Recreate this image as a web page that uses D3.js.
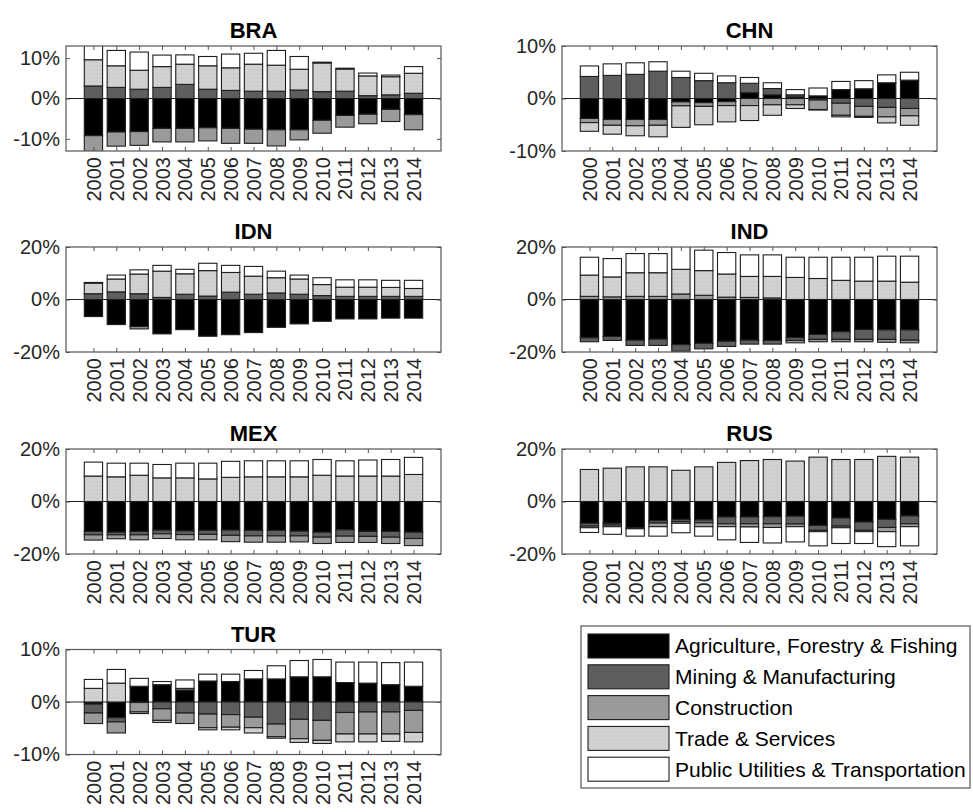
<!DOCTYPE html>
<html>
<head>
<meta charset="utf-8">
<script src="https://cdn.jsdelivr.net/npm/d3@7"></script>
<style>
  body { margin: 0; background: #fff; }
  svg { font-family: "Liberation Sans", Arial, sans-serif; }
</style>
</head>
<body>
<script>
/* data: share of each sector (%), one row per sector, one column per year */
const years = [2000, 2001, 2002, 2003, 2004, 2005, 2006, 2007, 2008, 2009, 2010, 2011, 2012, 2013, 2014];
const sectors = ['Agriculture, Forestry & Fishing', 'Mining & Manufacturing', 'Construction',
                 'Trade & Services', 'Public Utilities & Transportation'];
const countries = ['BRA', 'CHN', 'IDN', 'IND', 'MEX', 'RUS', 'TUR'];
const yLimits = [13, 10, 20, 20, 20, 20, 10];
const yTickValues = [[-10, 0, 10], [-10, 0, 10], [-20, 0, 20], [-20, 0, 20], [-20, 0, 20], [-20, 0, 20], [-10, 0, 10]];

const BRA = [
  [-9.2, -8.3, -8.2, -7.4, -7.4, -7.25, -7.4, -7.6, -7.75, -7.75, -5.4, -4.2, -3.9, -2.7, -4.0],
  [3.1, 2.75, 2.3, 2.75, 3.5, 2.3, 2.0, 1.8, 1.8, 2.1, 1.7, 1.8, 0.7, 0.9, 1.3],
  [-4.8, -3.5, -3.4, -3.35, -3.35, -3.25, -3.7, -3.5, -4.0, -2.5, -3.2, -2.9, -2.35, -3.0, -3.75],
  [6.5, 5.35, 4.7, 5.15, 5.0, 5.8, 5.6, 6.7, 6.45, 5.15, 7.1, 5.5, 4.9, 4.5, 4.95],
  [4.4, 3.8, 4.5, 2.85, 2.3, 2.3, 3.4, 2.7, 3.65, 3.15, 0.2, 0.2, 0.7, 0.4, 1.65]
];
const CHN = [
  [-3.8, -4.0, -4.0, -4.0, -0.65, -0.8, -0.6, 1.1, 0.7, 0.3, 0.5, 1.7, 1.85, 3.0, 3.5],
  [4.2, 4.4, 4.6, 5.2, 4.0, 3.4, 3.0, 1.8, 1.2, 0.4, -0.3, -0.9, -1.5, -1.7, -1.9],
  [-0.8, -1.1, -1.2, -1.1, -0.75, -0.7, -0.75, -1.35, -1.2, -1.2, -1.8, -2.3, -1.9, -1.8, -1.4],
  [-1.65, -1.7, -1.9, -2.2, -4.1, -3.5, -3.1, -2.85, -2.0, -0.7, -0.1, -0.3, -0.2, -1.15, -1.8],
  [2.0, 2.2, 2.2, 1.8, 1.2, 1.4, 1.3, 1.1, 1.1, 1.0, 1.5, 1.55, 1.55, 1.5, 1.5]
];
const IDN = [
  [-6.5, -9.55, -10.3, -13.1, -11.5, -14.0, -13.4, -12.6, -10.6, -9.3, -8.3, -7.4, -7.4, -7.1, -7.1],
  [2.2, 2.9, 2.2, 0.8, 2.0, 1.3, 2.8, 2.0, 2.5, 2.0, 1.5, 1.2, 1.2, 1.2, 1.2],
  [0, 0, -0.9, 0, 0, 0, 0, 0, 0, 0, 0, 0, 0, 0, 0],
  [4.0, 4.9, 7.5, 10.0, 7.8, 9.7, 7.5, 6.9, 5.8, 5.8, 4.2, 3.5, 3.5, 3.4, 3.0],
  [0.3, 1.5, 1.6, 2.2, 1.7, 2.8, 2.7, 3.7, 2.5, 1.5, 2.6, 2.8, 2.8, 2.7, 3.1]
];
const IND = [
  [-14.6, -14.1, -15.5, -15.1, -17.2, -16.7, -15.9, -15.5, -15.6, -14.5, -13.3, -12.3, -11.4, -11.6, -11.6],
  [-1.5, -1.5, -2.0, -2.4, -2.5, -2.1, -2.0, -1.5, -1.4, -1.1, -1.9, -2.9, -3.8, -3.6, -3.9],
  [1.2, 1.0, 1.2, 1.2, 2.1, 1.6, 0.9, 0.8, 0.6, -0.9, -0.9, -0.9, -0.9, -1.1, -1.0],
  [8.1, 7.6, 9.0, 9.0, 9.4, 9.4, 8.8, 8.0, 8.2, 8.4, 8.0, 7.3, 7.0, 7.0, 6.6],
  [6.8, 7.0, 7.3, 7.3, 8.7, 7.8, 8.2, 8.2, 8.2, 7.7, 8.1, 8.8, 9.1, 9.5, 9.9]
];
const MEX = [
  [-11.4, -11.7, -11.4, -10.9, -11.2, -11.0, -10.9, -11.0, -11.0, -11.3, -11.7, -10.8, -11.4, -11.4, -11.7],
  [-1.3, -1.0, -1.3, -1.4, -1.4, -1.5, -2.0, -2.1, -2.1, -1.8, -1.9, -2.4, -1.9, -2.2, -2.4],
  [-2.0, -1.5, -1.9, -1.8, -2.0, -2.1, -2.4, -2.4, -2.4, -2.3, -2.4, -2.4, -2.3, -2.4, -2.7],
  [9.7, 9.4, 10.0, 9.0, 9.0, 8.6, 9.2, 9.4, 9.4, 9.4, 10.0, 9.7, 9.7, 9.7, 10.3],
  [5.3, 5.2, 4.6, 5.1, 5.6, 6.0, 6.1, 6.1, 6.1, 6.1, 6.0, 5.8, 6.1, 6.3, 6.5]
];
const RUS = [
  [-8.3, -8.3, -10.0, -7.3, -6.8, -7.0, -5.9, -5.9, -5.8, -5.6, -9.1, -6.3, -7.8, -6.8, -5.5],
  [-1.1, -0.7, -0.2, -0.9, -0.8, -1.1, -2.6, -2.6, -2.7, -3.0, -1.9, -3.1, -3.2, -3.1, -3.0],
  [-0.6, -0.6, -0.2, -1.4, -0.7, -1.5, -1.1, -1.2, -1.4, -1.0, -0.5, -0.6, -0.5, -1.6, -1.1],
  [12.2, 12.7, 13.2, 13.2, 11.9, 13.2, 14.9, 15.6, 16.0, 15.4, 16.9, 16.0, 16.0, 17.2, 16.9],
  [-1.8, -2.9, -2.8, -3.6, -3.6, -3.6, -5.0, -5.9, -5.9, -5.8, -5.4, -6.0, -4.5, -5.7, -7.3]
];
const TUR = [
  [-0.4, -3.0, 3.0, 3.3, 2.3, 4.0, 3.9, 4.4, 4.4, 4.8, 4.8, 3.7, 3.6, 3.3, 3.0],
  [-1.7, -0.8, -0.1, -1.3, -2.1, -2.3, -2.4, -2.9, -4.2, -3.3, -3.5, -2.0, -1.9, -1.9, -1.6],
  [-2.0, -2.1, -1.8, -2.2, -2.0, -2.6, -2.4, -2.0, -2.4, -3.7, -3.8, -4.1, -4.2, -4.2, -4.2],
  [2.6, 3.6, -0.3, -0.4, 0.3, -0.4, -0.5, -1.0, -0.3, -0.7, -0.6, -1.5, -1.5, -1.4, -1.8],
  [1.7, 2.6, 1.5, 0.6, 1.6, 1.3, 1.4, 1.6, 2.5, 3.1, 3.3, 3.9, 4.0, 4.2, 4.6]
];
const dataSets = [BRA, CHN, IDN, IND, MEX, RUS, TUR];

/* layout */
const colX = [66, 562];
const rowY = [46, 247, 449, 649.5];
const pw = 375, ph = 105;
const fills = ['#000000', '#5e5e5e', '#9a9a9a', 'url(#dots)', '#ffffff'];

const svg = d3.select('body').append('svg')
  .attr('width', 973)
  .attr('height', 812);

const defs = svg.append('defs');
// light stipple for trade & services
const pat = defs.append('pattern')
  .attr('id', 'dots')
  .attr('width', 4).attr('height', 4)
  .attr('patternUnits', 'userSpaceOnUse');
pat.append('rect').attr('width', 4).attr('height', 4).attr('fill', '#d1d1d1');
pat.append('rect').attr('x', 1).attr('y', 1).attr('width', 1).attr('height', 1).attr('fill', '#bdbdbd');

countries.forEach((name, i) => {
  const data = dataSets[i];
  const left = colX[i % 2], top = rowY[Math.floor(i / 2)];

  const x = d3.scaleLinear().domain([1998.8, 2015.2]).range([left, left + pw]);
  const y = d3.scaleLinear().domain([-yLimits[i], yLimits[i]]).range([top + ph, top]);
  const bw = x(2000.4) - x(1999.6);

  defs.append('clipPath').attr('id', 'clip' + i)
    .append('rect')
    .attr('x', left).attr('y', top)
    .attr('width', pw).attr('height', ph);

  const g = svg.append('g');

  // zero baseline
  g.append('line')
    .attr('x1', left).attr('x2', left + pw)
    .attr('y1', y(0)).attr('y2', y(0))
    .attr('stroke', '#222').attr('stroke-width', 1);

  // stacked segments: positives go up from 0, negatives go down from 0
  const segs = [];
  years.forEach((yr, j) => {
    let pos = 0, neg = 0;
    sectors.forEach((s, k) => {
      const v = data[k][j];
      if (v > 0) { segs.push({ yr, k, y0: pos, y1: pos + v }); pos += v; }
      else if (v < 0) { segs.push({ yr, k, y0: neg + v, y1: neg }); neg += v; }
    });
  });
  segs.sort((a, b) => a.k - b.k);

  g.append('g').attr('clip-path', `url(#clip${i})`)
    .selectAll('rect')
    .data(segs)
    .enter().append('rect')
    .attr('x', d => x(d.yr) - bw / 2)
    .attr('width', bw)
    .attr('y', d => y(d.y1))
    .attr('height', d => y(d.y0) - y(d.y1))
    .attr('fill', d => fills[d.k])
    .attr('stroke', '#1e1e1e')
    .attr('stroke-width', 1.1);

  // axes (ticks point inward, box on)
  const tickCol = '#555';
  const bottom = g.append('g')
    .attr('transform', `translate(0,${top + ph})`)
    .call(d3.axisBottom(x).tickValues(years).tickSize(-4).tickSizeOuter(0).tickFormat(d3.format('d')));
  bottom.selectAll('text')
    .attr('transform', 'rotate(-90)')
    .attr('text-anchor', 'end')
    .attr('x', -6).attr('y', 0).attr('dy', '0.35em');

  g.append('g')
    .attr('transform', `translate(0,${top})`)
    .call(d3.axisTop(x).tickValues(years).tickSize(-4).tickSizeOuter(0).tickFormat(''));

  g.append('g')
    .attr('transform', `translate(${left},0)`)
    .call(d3.axisLeft(y).tickValues(yTickValues[i]).tickSize(-4).tickSizeOuter(0)
      .tickPadding(6).tickFormat(d => d + '%'));

  g.append('g')
    .attr('transform', `translate(${left + pw},0)`)
    .call(d3.axisRight(y).tickValues(yTickValues[i]).tickSize(-4).tickSizeOuter(0).tickFormat(''));

  g.selectAll('.domain').remove();
  g.selectAll('.tick line').attr('stroke', tickCol);
  g.selectAll('.tick text')
    .attr('font-family', null)
    .style('font-size', '20px')
    .style('fill', '#262626');
  g.selectAll('g').attr('font-family', null).attr('font-size', null);

  // box
  g.append('rect')
    .attr('x', left).attr('y', top)
    .attr('width', pw).attr('height', ph)
    .attr('fill', 'none')
    .attr('stroke', tickCol).attr('stroke-width', 1.2);

  // title
  g.append('text')
    .attr('x', left + pw / 2)
    .attr('y', top - 8)
    .attr('text-anchor', 'middle')
    .style('font-size', '22px')
    .style('font-weight', 'bold')
    .text(name);
});

/* legend */
const lg = svg.append('g');
lg.append('rect')
  .attr('x', 581).attr('y', 626)
  .attr('width', 389).attr('height', 162)
  .attr('fill', '#fff')
  .attr('stroke', '#555').attr('stroke-width', 1.2);

const items = lg.selectAll('.legend')
  .data(sectors)
  .enter().append('g')
  .attr('class', 'legend')
  .attr('transform', (d, i) => `translate(588, ${634 + i * 30.8})`);

items.append('rect')
  .attr('width', 81).attr('height', 24)
  .attr('fill', (d, i) => fills[i])
  .attr('stroke', '#1e1e1e').attr('stroke-width', 1.1);

items.append('text')
  .attr('x', 87).attr('y', 12)
  .attr('dy', '0.35em')
  .style('font-size', '21px')
  .style('fill', '#000')
  .text(d => d);
</script>
</body>
</html>
